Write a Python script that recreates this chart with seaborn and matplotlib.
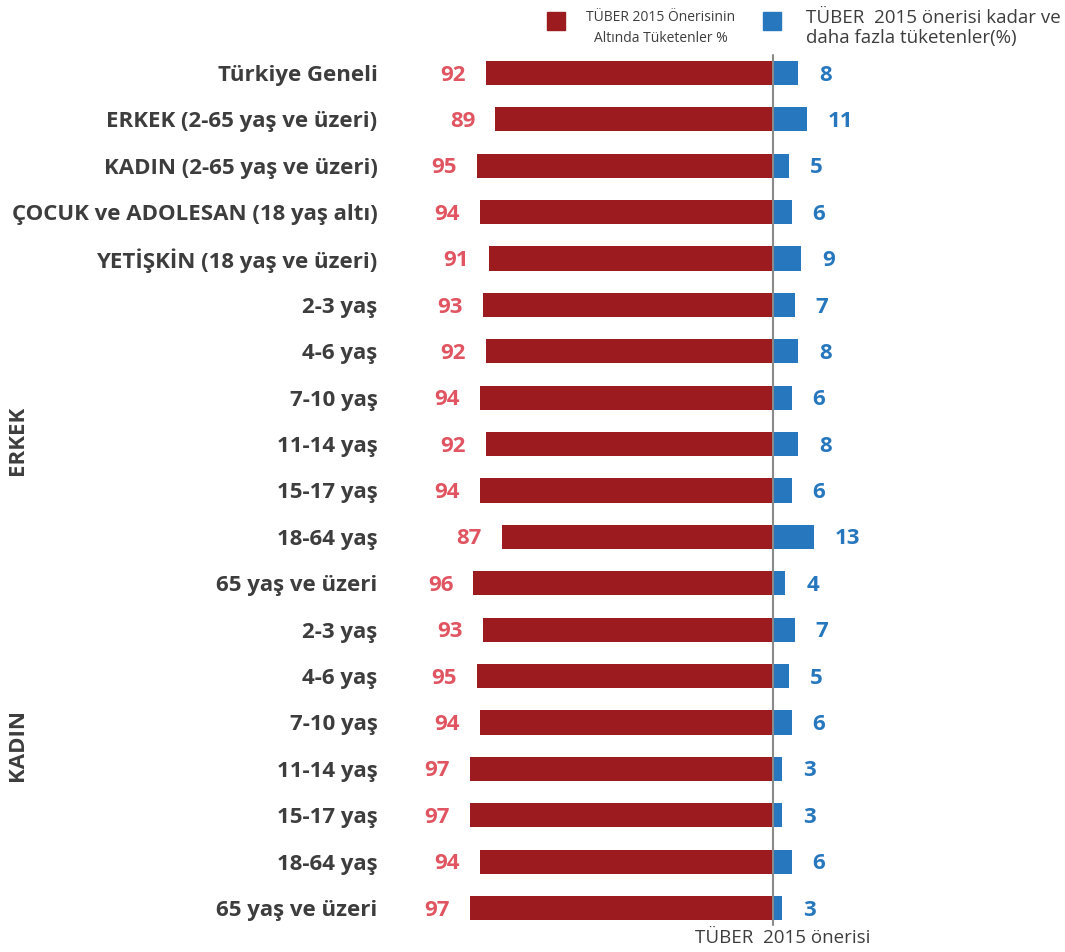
import numpy as np
import pandas as pd
import matplotlib
matplotlib.use("Agg")
import matplotlib.pyplot as plt
import seaborn as sns

# Row labels, top to bottom
categories = [
    "Türkiye Geneli",
    "ERKEK (2-65 yaş ve üzeri)",
    "KADIN (2-65 yaş ve üzeri)",
    "ÇOCUK ve ADOLESAN (18 yaş altı)",
    "YETİŞKİN (18 yaş ve üzeri)",
    "2-3 yaş", "4-6 yaş", "7-10 yaş", "11-14 yaş", "15-17 yaş", "18-64 yaş", "65 yaş ve üzeri",
    "2-3 yaş", "4-6 yaş", "7-10 yaş", "11-14 yaş", "15-17 yaş", "18-64 yaş", "65 yaş ve üzeri",
]
# Share consuming below the TÜBER 2015 recommendation (%)
below = [92, 89, 95, 94, 91, 93, 92, 94, 92, 94, 87, 96, 93, 95, 94, 97, 97, 94, 97]
# Share consuming at or above the recommendation (%)
above = [8, 11, 5, 6, 9, 7, 8, 6, 8, 6, 13, 4, 7, 5, 6, 3, 3, 6, 3]

group_labels = ["ERKEK", "KADIN"]
legend_below = "TÜBER 2015 Önerisinin\nAltında Tüketenler %"
legend_above = "TÜBER  2015 önerisi kadar ve\ndaha fazla tüketenler(%)"
axis_note = "TÜBER  2015 önerisi"

RED = "#9b1b1f"
BLUE = "#2777be"
RED_TXT = "#e05561"
BLUE_TXT = "#2777be"
DARK = "#3d3d3d"

sns.set_theme(style="white")
plt.rcParams["font.family"] = ["Open Sans", "DejaVu Sans"]

W, H = 1065, 952
fig = plt.figure(figsize=(W / 100, H / 100), dpi=100)
ax_left, ax_right, ax_top, ax_bot = 390, 1060, 50, 931
ax = fig.add_axes([ax_left / W, 1 - ax_bot / H, (ax_right - ax_left) / W, (ax_bot - ax_top) / H])

df = pd.DataFrame({
    "row": np.arange(len(categories)),
    "below": -np.array(below, dtype=float),
    "above": np.array(above, dtype=float),
})

sns.barplot(data=df, x="below", y="row", orient="h", color=RED, width=0.52,
            saturation=1, ax=ax, linewidth=0)
sns.barplot(data=df, x="above", y="row", orient="h", color=BLUE, width=0.52,
            saturation=1, ax=ax, linewidth=0)

px_per_unit = 3.12
ax.set_xlim(-(773 - ax_left) / px_per_unit, (ax_right - 773) / px_per_unit)
row_px = (908 - 73) / 18
ax.set_ylim(18 + (ax_bot - 908) / row_px, -(73 - ax_top) / row_px)

ax.axvline(0, ymin=(ax_bot - 925) / (ax_bot - ax_top), ymax=1 - (55 - ax_top) / (ax_bot - ax_top),
           color="#8a8a8a", lw=1.5, zorder=5)

for i, (b, a) in enumerate(zip(below, above)):
    ax.annotate(str(b), xy=(-b, i), xytext=(-14.5, -1.5), textcoords="offset points",
                ha="right", va="center", fontsize=16, fontweight="bold", color=RED_TXT)
    ax.annotate(str(a), xy=(a, i), xytext=(15, -1.5), textcoords="offset points",
                ha="left", va="center", fontsize=16, fontweight="bold", color=BLUE_TXT)

ax.set_yticks(range(len(categories)))
ax.set_yticklabels(categories, fontsize=16, fontweight="bold", color=DARK)
ax.tick_params(axis="y", length=0, pad=9)
ax.set_xticks([])
ax.set_xlabel("")
ax.set_ylabel("")
for s in ax.spines.values():
    s.set_visible(False)

# Group captions on the far left
fig.text(18 / W, 1 - 440 / H, group_labels[0], rotation=90, ha="center", va="center",
         fontsize=16, fontweight="bold", color=DARK)
fig.text(18 / W, 1 - 745 / H, group_labels[1], rotation=90, ha="center", va="center",
         fontsize=16, fontweight="bold", color=DARK)

# Legend
fig.patches.append(plt.Rectangle((547 / W, 1 - 30 / H), 18 / W, 18 / H,
                                 transform=fig.transFigure, color=RED, figure=fig))
fig.text(661 / W, 1 - 28 / H, legend_below, ha="center", va="center", fontsize=10,
         color=DARK, linespacing=1.6)
fig.patches.append(plt.Rectangle((763 / W, 1 - 30 / H), 18 / W, 18 / H,
                                 transform=fig.transFigure, color=BLUE, figure=fig))
fig.text(806 / W, 1 - 28 / H, legend_above, ha="left", va="center", fontsize=13.5,
         color=DARK, linespacing=1.2)

fig.text(783 / W, 1 - 938 / H, axis_note, ha="center", va="center", fontsize=13.5, color=DARK)

fig.savefig("out.png", dpi=100)
